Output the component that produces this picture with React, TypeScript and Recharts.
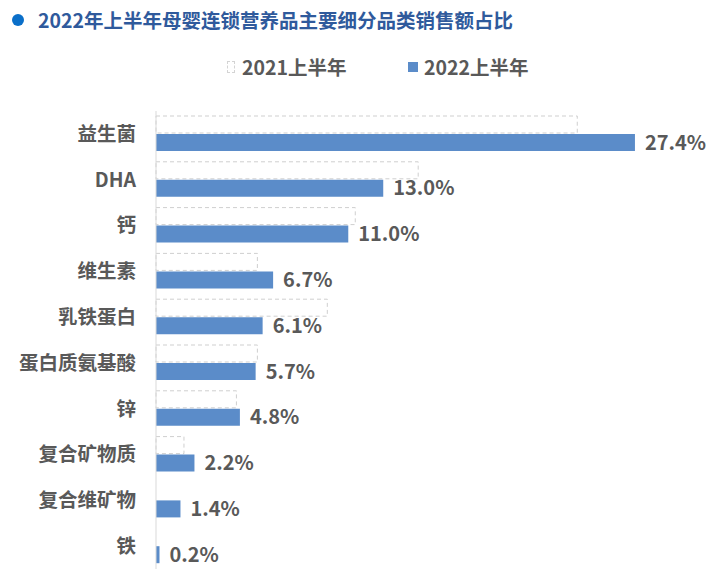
import { BarChart, Bar, XAxis, YAxis, LabelList } from "recharts";

const categories = [
  "益生菌",
  "DHA",
  "钙",
  "维生素",
  "乳铁蛋白",
  "蛋白质氨基酸",
  "锌",
  "复合矿物质",
  "复合维矿物",
  "铁",
];
const share2021 = [24.1, 15.0, 11.4, 5.8, 9.8, 5.8, 4.6, 1.6, 0, 0];
const share2022 = [27.4, 13.0, 11.0, 6.7, 6.1, 5.7, 4.8, 2.2, 1.4, 0.2];

const seriesNames = ["2021上半年", "2022上半年"];
const title = "2022年上半年母婴连锁营养品主要细分品类销售额占比";

const BLUE = "#5b8cc9";
const GRAY_TEXT = "#595959";
const FONT = '"Noto Sans CJK SC", "Noto Sans", sans-serif';

const data = categories.map((name, i) => ({
  name,
  y2021: share2021[i],
  y2022: share2022[i],
}));

export default function App() {
  return (
    <div
      style={{
        position: "absolute",
        left: 0,
        top: 0,
        width: 721,
        height: 572,
        background: "#fff",
        fontFamily: FONT,
        overflow: "hidden",
      }}
    >
      {/* title */}
      <div style={{ position: "absolute", left: 12, top: 14, width: 12, height: 12, borderRadius: 6, background: "#0a6fc9" }} />
      <div
        style={{
          position: "absolute",
          left: 38,
          top: 6,
          fontSize: 19.5,
          lineHeight: "28px",
          fontWeight: 700,
          color: "#2f5a9c",
          whiteSpace: "nowrap",
        }}
      >
        {title}
      </div>

      {/* legend */}
      <div style={{ position: "absolute", left: 227, top: 61, width: 8, height: 12, border: "1px dashed #d4d4d4", boxSizing: "border-box" }} />
      <div style={{ position: "absolute", left: 242, top: 53, fontSize: 19.5, lineHeight: "28px", fontWeight: 700, color: GRAY_TEXT }}>
        {seriesNames[0]}
      </div>
      <div style={{ position: "absolute", left: 408, top: 62, width: 10, height: 10, background: BLUE }} />
      <div style={{ position: "absolute", left: 424, top: 53, fontSize: 19.5, lineHeight: "28px", fontWeight: 700, color: GRAY_TEXT }}>
        {seriesNames[1]}
      </div>

      <div style={{ position: "absolute", left: 0, top: 0 }}>
        <BarChart
          width={721}
          height={572}
          data={data}
          layout="vertical"
          margin={{ top: 111, right: 40.6, bottom: 3, left: 0 }}
          barSize={17}
          barGap={1}
        >
          <XAxis type="number" hide domain={[0, 30]} />
          <YAxis
            type="category"
            dataKey="name"
            width={156}
            axisLine={{ stroke: "#d9d9d9" }}
            tickLine={false}
            tickMargin={14}
            tick={{ fill: GRAY_TEXT, fontSize: 19.5, fontWeight: 700, fontFamily: FONT }}
            interval={0}
          />
          <Bar
            dataKey="y2021"
            name={seriesNames[0]}
            fill="#fff"
            stroke="#cfcfcf"
            strokeDasharray="4 3"
            isAnimationActive={false}
          />
          <Bar dataKey="y2022" name={seriesNames[1]} fill={BLUE} isAnimationActive={false}>
            <LabelList
              dataKey="y2022"
              position="right"
              offset={10}
              fill={GRAY_TEXT}
              fontSize={20}
              fontWeight={700}
              fontFamily={FONT}
              formatter={(v: any) => `${Number(v).toFixed(1)}%`}
            />
          </Bar>
        </BarChart>
      </div>
    </div>
  );
}
